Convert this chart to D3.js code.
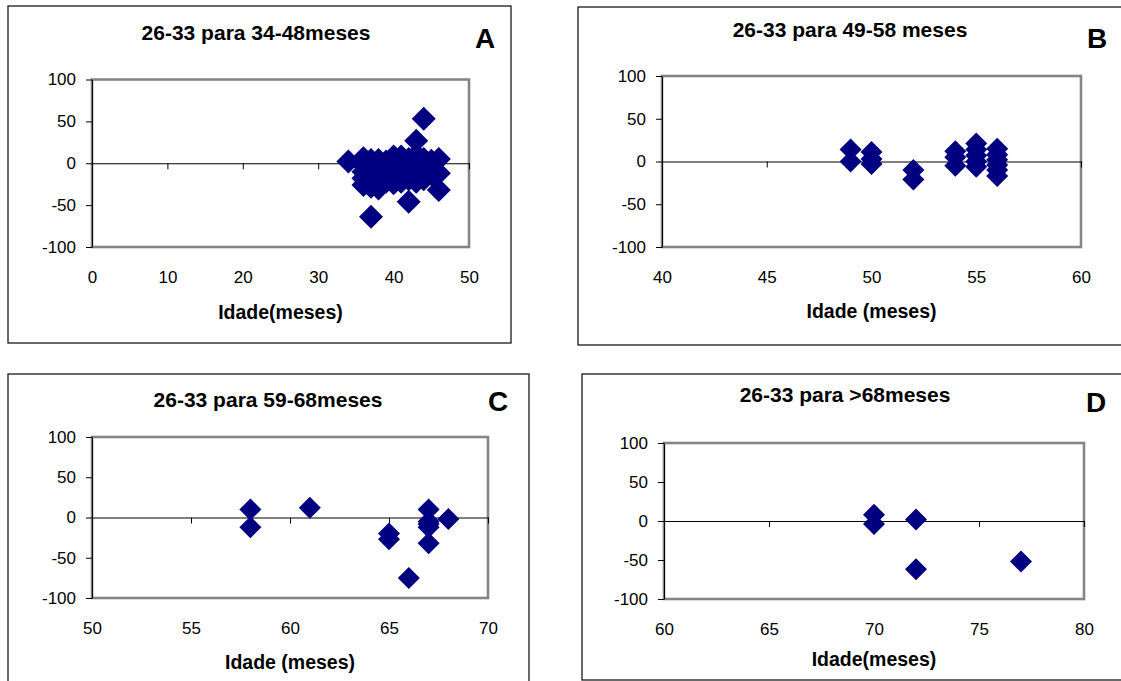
<!DOCTYPE html>
<html>
<head>
<meta charset="utf-8">
<script src="https://cdn.jsdelivr.net/npm/d3@7"></script>
<style>
  body { margin: 0; background: #fff; }
  text { font-family: "Liberation Sans", Arial, sans-serif; fill: #000; }
</style>
</head>
<body>
<script>
// values: [idade (meses), diferença]
var pointsA = [
    [34, 2],
    [36, 6], [36, -2], [36, -10], [36, -18], [36, -26],
    [37, 4], [37, -4], [37, -12], [37, -20], [37, -28], [37, -64],
    [38, 4], [38, -5], [38, -14], [38, -22], [38, -30],
    [39, 2], [39, -6], [39, -14], [39, -22],
    [40, 8], [40, 0], [40, -8], [40, -16], [40, -24],
    [41, 8], [41, 0], [41, -8], [41, -15], [41, -22],
    [42, 5], [42, -3], [42, -11], [42, -19], [42, -46],
    [43, 27], [43, 10], [43, 2], [43, -6], [43, -14], [43, -22],
    [44, 53], [44, 5], [44, -3], [44, -11], [44, -19],
    [45, 3], [45, -5], [45, -13],
    [46, 5], [46, -12], [46, -32]
];
var pointsB = [
    [49, 14], [49, 0],
    [50, 11], [50, 3], [50, -3],
    [52, -10], [52, -21],
    [54, 12], [54, 5], [54, -5],
    [55, 21], [55, 14], [55, 7], [55, 0], [55, -6],
    [56, 15], [56, 8], [56, 2], [56, -4], [56, -10], [56, -17]
];
var pointsC = [
    [58, 10], [58, -12],
    [61, 12],
    [65, -20], [65, -27],
    [66, -75],
    [67, 10], [67, -5], [67, -8], [67, -12], [67, -32],
    [68, -2]
];
var pointsD = [
    [70, 8], [70, -4],
    [72, 2], [72, -62],
    [77, -52]
];

var yTicks = [-100, -50, 0, 50, 100];
var xTicksA = [0, 10, 20, 30, 40, 50];
var xTicksB = [40, 45, 50, 55, 60];
var xTicksC = [50, 55, 60, 65, 70];
var xTicksD = [60, 65, 70, 75, 80];

var titles = ['26-33 para 34-48meses', '26-33 para 49-58 meses', '26-33 para 59-68meses', '26-33 para >68meses'];
var letters = ['A', 'B', 'C', 'D'];
var xTitles = ['Idade(meses)', 'Idade (meses)', 'Idade (meses)', 'Idade(meses)'];

var panels = [
    {points: pointsA, xTicks: xTicksA, frame: [8, 6, 511, 343], plot: [92, 79.5, 469, 247], titleX: 256, titleY: 40, letterX: 475, letterY: 48, xLabelY: 319, r: 12},
    {points: pointsB, xTicks: xTicksB, frame: [578, 7, 1130, 345], plot: [662, 76, 1081, 247], titleX: 850, titleY: 37, letterX: 1087, letterY: 48, xLabelY: 318, r: 11},
    {points: pointsC, xTicks: xTicksC, frame: [8, 374, 529, 700], plot: [92, 437, 488, 598], titleX: 268, titleY: 407, letterX: 488, letterY: 411, xLabelY: 669, r: 11},
    {points: pointsD, xTicks: xTicksD, frame: [582, 374, 1130, 680], plot: [664, 443, 1084, 599], titleX: 845, titleY: 402, letterX: 1086, letterY: 412, xLabelY: 666, r: 11}
];

var svg = d3.select('body')
    .append('svg')
        .attr('width', 1121)
        .attr('height', 681);

var diamond = (r) => 'M0,' + (-r) + 'L' + r + ',0L0,' + r + 'L' + (-r) + ',0Z';

panels.forEach((p, i) => {
    var g = svg.append('g');
    var [fx0, fy0, fx1, fy1] = p.frame;
    var [px0, py0, px1, py1] = p.plot;

    g.append('rect')
        .attr('x', fx0)
        .attr('y', fy0)
        .attr('width', fx1 - fx0)
        .attr('height', fy1 - fy0)
        .attr('fill', '#fff')
        .attr('stroke', '#1a1a1a')
        .attr('stroke-width', 1.3);

    var x = d3.scaleLinear()
        .domain(d3.extent(p.xTicks))
        .range([px0, px1]);
    var y = d3.scaleLinear()
        .domain([-100, 100])
        .range([py1, py0]);

    // plot area border
    g.append('rect')
        .attr('x', px0)
        .attr('y', py0)
        .attr('width', px1 - px0)
        .attr('height', py1 - py0)
        .attr('fill', 'none')
        .attr('stroke', '#858585')
        .attr('stroke-width', 2.6);

    // y axis
    var yAxis = g.append('g')
        .attr('transform', 'translate(' + px0 + ',0)')
        .call(d3.axisLeft(y).tickValues(yTicks).tickSize(6).tickSizeOuter(0).tickPadding(10).tickFormat((d) => String(d)));
    yAxis.attr('font-family', null).attr('font-size', null);
    yAxis.selectAll('text').style('font-size', '17px');
    yAxis.selectAll('line, path').attr('stroke', '#000');

    // x axis line crossing at 0
    var xAxis = g.append('g')
        .attr('transform', 'translate(0,' + y(0) + ')')
        .call(d3.axisBottom(x).tickValues(p.xTicks).tickSize(6).tickSizeOuter(0).tickFormat(''));
    xAxis.selectAll('line, path').attr('stroke', '#000');

    // x tick labels at the bottom of the plot
    var xLabels = g.append('g')
        .attr('transform', 'translate(0,' + py1 + ')')
        .call(d3.axisBottom(x).tickValues(p.xTicks).tickSize(0).tickPadding(24).tickFormat((d) => String(d)));
    xLabels.select('.domain').remove();
    xLabels.attr('font-family', null).attr('font-size', null);
    xLabels.selectAll('text').style('font-size', '17px');

    g.append('g')
        .selectAll('path')
        .data(p.points)
        .enter()
        .append('path')
            .attr('d', diamond(p.r))
            .attr('transform', (d) => 'translate(' + x(d[0]) + ',' + y(d[1]) + ')')
            .attr('fill', '#000080');

    g.append('text')
        .attr('x', p.titleX)
        .attr('y', p.titleY)
        .attr('text-anchor', 'middle')
        .style('font-size', '21px')
        .style('font-weight', 'bold')
        .text(titles[i]);

    g.append('text')
        .attr('x', p.letterX)
        .attr('y', p.letterY)
        .style('font-size', '28px')
        .style('font-weight', 'bold')
        .text(letters[i]);

    g.append('text')
        .attr('x', (px0 + px1) / 2)
        .attr('y', p.xLabelY)
        .attr('text-anchor', 'middle')
        .style('font-size', '19.5px')
        .style('font-weight', 'bold')
        .text(xTitles[i]);
});
</script>
</body>
</html>
